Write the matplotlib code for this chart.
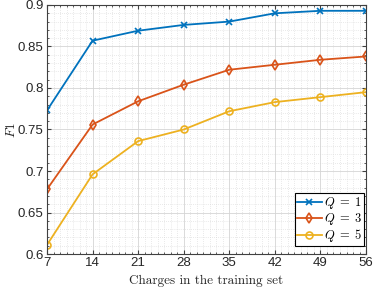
import matplotlib.pyplot as plt
from matplotlib.ticker import MultipleLocator

plt.rcParams['mathtext.fontset'] = 'cm'

charges = [7, 14, 21, 28, 35, 42, 49, 56]
f1_q1 = [0.773, 0.857, 0.869, 0.876, 0.880, 0.890, 0.893, 0.893]
f1_q3 = [0.678, 0.756, 0.784, 0.804, 0.822, 0.828, 0.834, 0.838]
f1_q5 = [0.611, 0.696, 0.736, 0.750, 0.772, 0.783, 0.789, 0.795]

fig = plt.figure(figsize=(3.74, 2.90), dpi=100)
ax = fig.add_axes([0.1257, 0.1241, 0.853, 0.8587])

ax.plot(charges, f1_q1, color='#0072BD', marker='x', ms=4, mew=1.2, lw=1.3, label=r'$Q\;=\;1$')
ax.plot(charges, f1_q3, color='#D95319', marker='d', ms=5, mfc='none', mew=1.2, lw=1.3, label=r'$Q\;=\;3$')
ax.plot(charges, f1_q5, color='#EDB120', marker='o', ms=5, mfc='none', mew=1.2, lw=1.3, label=r'$Q\;=\;5$')

ax.set_xlim(7, 56)
ax.set_ylim(0.6, 0.9)
ax.set_xticks(charges)
ax.set_yticks([0.6, 0.65, 0.7, 0.75, 0.8, 0.85, 0.9])
ax.set_yticklabels(['0.6', '0.65', '0.7', '0.75', '0.8', '0.85', '0.9'])
ax.xaxis.set_minor_locator(MultipleLocator(1))
ax.yaxis.set_minor_locator(MultipleLocator(0.01))
ax.grid(which='major', color='#d4d4d4', lw=0.6)
ax.grid(which='minor', color='#d4d4d4', lw=0.5, ls=(0, (1, 2)))
ax.set_axisbelow(True)
ax.tick_params(which='both', direction='in', top=True, right=True, labelsize=9.5,
               color='#404040', labelcolor='#262626', pad=2.5)
ax.tick_params(which='major', length=3)
ax.tick_params(which='minor', length=1.5)
for s in ax.spines.values():
    s.set_color('#404040')
    s.set_linewidth(0.8)
for lab in ax.get_xticklabels() + ax.get_yticklabels():
    lab.set_fontfamily('Liberation Sans')

ax.set_xlabel('Charges in the training set', fontfamily='cmr10', fontsize=9.5, labelpad=4, color='#262626')
ax.set_ylabel('$F1$', fontsize=9.5, labelpad=0, color='#262626')
leg = ax.legend(loc='lower right', bbox_to_anchor=(0.994, 0.032), fontsize=9, frameon=True,
                fancybox=False, edgecolor='black', handlelength=2.0, borderpad=0.15,
                labelspacing=0.0, handletextpad=0.2, borderaxespad=0, framealpha=1)
leg.get_frame().set_linewidth(0.8)

fig.savefig('out.png', dpi=100)
